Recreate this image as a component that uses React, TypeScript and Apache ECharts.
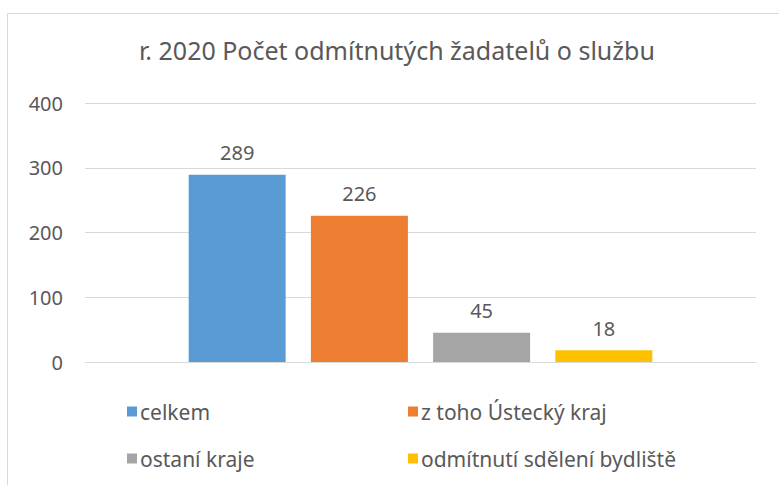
import React, { useEffect, useRef } from "react";
import * as echarts from "echarts";

const titleText = "r. 2020 Počet odmítnutých žadatelů o službu";
const seriesNames = ["celkem", "z toho Ústecký kraj", "ostaní kraje", "odmítnutí sdělení bydliště"];
const seriesValues = [289, 226, 45, 18];
const seriesColors = ["#5B9BD5", "#ED7D31", "#A5A5A5", "#FFC000"];
const categories = [""];
const yTicks = { min: 0, max: 400, interval: 100 };

const legendPos = [
  { left: 127, top: 401 },
  { left: 408, top: 401 },
  { left: 127, top: 448 },
  { left: 408, top: 448 },
];

export default function App() {
  const ref = useRef<HTMLDivElement>(null);
  useEffect(() => {
    if (!ref.current) return;
    const chart = echarts.init(ref.current, null, { renderer: "svg" });
    const font = "'Noto Sans', sans-serif";
    const textColor = "#595959";
    chart.setOption({
      animation: false,
      backgroundColor: "#ffffff",
      textStyle: { fontFamily: font },
      title: {
        text: titleText,
        left: 134,
        top: 32,
        textStyle: { fontFamily: font, fontSize: 25, fontWeight: "normal", color: textColor },
      },
      graphic: [
        {
          type: "rect",
          shape: { x: 7.5, y: 13.5, width: 800, height: 500 },
          style: { fill: "none", stroke: "#d9d9d9", lineWidth: 1 },
          silent: true,
        },
      ],
      legend: seriesNames.map((n, i) => ({
        data: [n],
        left: legendPos[i].left,
        top: legendPos[i].top,
        icon: "rect",
        itemWidth: 10,
        itemHeight: 10,
        itemGap: 5,
        padding: 0,
        textStyle: { fontFamily: font, fontSize: 21, color: textColor, padding: [0, 0, 0, -2] },
      })),
      grid: { left: 85, right: 23, top: 103, bottom: 123, containLabel: false },
      xAxis: {
        type: "category",
        data: categories,
        axisLine: { show: true, lineStyle: { color: "#d9d9d9", width: 1 } },
        axisTick: { show: false },
        axisLabel: { show: false },
      },
      yAxis: {
        type: "value",
        min: yTicks.min,
        max: yTicks.max,
        interval: yTicks.interval,
        axisLine: { show: false },
        axisTick: { show: false },
        splitLine: { lineStyle: { color: "#d9d9d9", width: 1 } },
        axisLabel: { fontFamily: font, fontSize: 20, color: textColor, margin: 22 },
      },
      series: seriesNames.map((n, i) => ({
        name: n,
        type: "bar",
        data: [seriesValues[i]],
        barWidth: 97,
        barGap: "26%",
        itemStyle: { color: seriesColors[i] },
        label: {
          show: true,
          position: "top",
          distance: 12,
          fontFamily: font,
          fontSize: 20,
          color: textColor,
        },
      })),
    });
    return () => chart.dispose();
  }, []);
  return (
    <div
      ref={ref}
      style={{ position: "fixed", left: 0, top: 0, width: 779, height: 485 }}
    />
  );
}
